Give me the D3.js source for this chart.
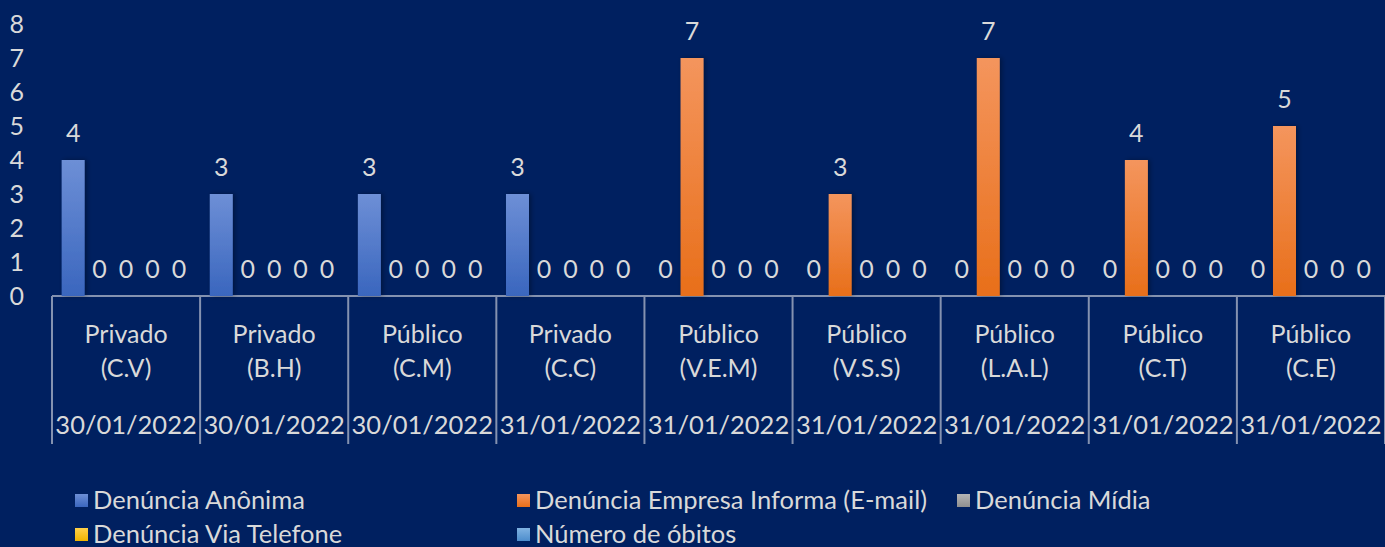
<!DOCTYPE html>
<html>
<head>
<meta charset="utf-8">
<script src="https://cdn.jsdelivr.net/npm/d3@7"></script>
<style>
  html, body { margin: 0; padding: 0; background: #002060; }
  svg { display: block; font-family: Lato, "Open Sans", sans-serif; }
</style>
</head>
<body>
<div id="chart"></div>
<script>
var width = 1385, height = 547;

// data
var types = ["Privado", "Privado", "Público", "Privado", "Público", "Público", "Público", "Público", "Público"];
var codes = ["(C.V)", "(B.H)", "(C.M)", "(C.C)", "(V.E.M)", "(V.S.S)", "(L.A.L)", "(C.T)", "(C.E)"];
var dates = ["30/01/2022", "30/01/2022", "30/01/2022", "31/01/2022", "31/01/2022", "31/01/2022", "31/01/2022", "31/01/2022", "31/01/2022"];
var seriesNames = ["Denúncia Anônima", "Denúncia Empresa Informa (E-mail)", "Denúncia Mídia", "Denúncia Via Telefone", "Número de óbitos"];
var anonima = [4, 3, 3, 3, 0, 0, 0, 0, 0];
var empresa = [0, 0, 0, 0, 7, 3, 7, 4, 5];
var midia = [0, 0, 0, 0, 0, 0, 0, 0, 0];
var telefone = [0, 0, 0, 0, 0, 0, 0, 0, 0];
var obitos = [0, 0, 0, 0, 0, 0, 0, 0, 0];
var yTicks = [0, 1, 2, 3, 4, 5, 6, 7, 8];

var allSeries = [anonima, empresa, midia, telefone, obitos];
var colors = [
  ["#6d8fd6", "#3a66be"],
  ["#f4955d", "#e86f1a"],
  ["#b5b5b5", "#8f8f8f"],
  ["#ffd04a", "#f0b400"],
  ["#7fb2e2", "#4d8dcc"]
];

var svg = d3.select("#chart").append("svg")
  .attr("width", width)
  .attr("height", height);

var defs = svg.append("defs");
colors.forEach(function(c, i) {
  var grad = defs.append("linearGradient")
    .attr("id", "grad" + i)
    .attr("x1", 0).attr("y1", 0).attr("x2", 0).attr("y2", 1);
  grad.append("stop").attr("offset", "0%").attr("stop-color", c[0]);
  grad.append("stop").attr("offset", "100%").attr("stop-color", c[1]);
});
var shadow = defs.append("filter").attr("id", "shadow")
  .attr("x", "-30%").attr("y", "-10%").attr("width", "160%").attr("height", "120%");
shadow.append("feDropShadow")
  .attr("dx", 2).attr("dy", 0).attr("stdDeviation", 2.5)
  .attr("flood-color", "#000").attr("flood-opacity", 0.35);

var x0 = d3.scaleBand()
  .domain(d3.range(types.length))
  .range([52, 1385]);

var x1 = d3.scaleBand()
  .domain(d3.range(seriesNames.length))
  .range([0, x0.bandwidth()])
  .paddingInner(0.13)
  .paddingOuter(0.365);

var y = d3.scaleLinear()
  .domain([0, 8])
  .range([296, 24]);

var textColor = "#d9d9d9";
var lineColor = "#8492b0";

// y tick labels
svg.append("g").selectAll("text")
  .data(yTicks)
  .enter().append("text")
  .attr("x", 24)
  .attr("y", d => y(d) + 9)
  .attr("text-anchor", "end")
  .attr("fill", textColor)
  .attr("font-size", 25)
  .text(d => d);

// category axis lines
svg.append("line")
  .attr("x1", x0.range()[0]).attr("x2", x0.range()[1])
  .attr("y1", y(0)).attr("y2", y(0))
  .attr("stroke", lineColor).attr("stroke-width", 2);

svg.append("g").selectAll("line")
  .data(d3.range(types.length + 1))
  .enter().append("line")
  .attr("x1", d => x0.range()[0] + d * x0.step())
  .attr("x2", d => x0.range()[0] + d * x0.step())
  .attr("y1", y(0)).attr("y2", 444)
  .attr("stroke", lineColor).attr("stroke-width", 2);

// bars
var groups = svg.append("g").selectAll("g")
  .data(types.map((t, i) => i))
  .enter().append("g")
  .attr("transform", i => "translate(" + x0(i) + ",0)");

groups.selectAll("rect")
  .data(i => allSeries.map((s, k) => ({ k: k, v: s[i] })))
  .enter().append("rect")
  .filter(d => d.v > 0)
  .attr("x", d => x1(d.k))
  .attr("width", x1.bandwidth())
  .attr("y", d => y(d.v))
  .attr("height", d => y(0) - y(d.v))
  .attr("fill", d => "url(#grad" + d.k + ")")
  .attr("filter", "url(#shadow)");

groups.selectAll("text.val")
  .data(i => allSeries.map((s, k) => ({ k: k, v: s[i] })))
  .enter().append("text")
  .attr("class", "val")
  .attr("x", d => x1(d.k) + x1.bandwidth() / 2)
  .attr("y", d => y(d.v) - 18)
  .attr("text-anchor", "middle")
  .attr("fill", textColor)
  .attr("font-size", 25)
  .text(d => d.v);

// category labels
groups.append("text")
  .attr("x", x0.bandwidth() / 2)
  .attr("y", 343)
  .attr("text-anchor", "middle")
  .attr("fill", textColor)
  .attr("font-size", 25)
  .text(i => types[i]);

groups.append("text")
  .attr("x", x0.bandwidth() / 2)
  .attr("y", 377)
  .attr("text-anchor", "middle")
  .attr("fill", textColor)
  .attr("font-size", 25)
  .text(i => codes[i]);

groups.append("text")
  .attr("x", x0.bandwidth() / 2)
  .attr("y", 434)
  .attr("text-anchor", "middle")
  .attr("fill", textColor)
  .attr("font-size", 25.5)
  .text(i => dates[i]);

// legend
var legendPos = [[75, 500], [517, 500], [957, 500], [75, 534], [517, 534]];
var legend = svg.append("g").selectAll("g")
  .data(seriesNames)
  .enter().append("g")
  .attr("transform", (d, i) => "translate(" + legendPos[i][0] + "," + legendPos[i][1] + ")");

legend.append("rect")
  .attr("x", 0).attr("y", -6)
  .attr("width", 13).attr("height", 13)
  .attr("fill", (d, i) => "url(#grad" + i + ")");

legend.append("text")
  .attr("x", 18)
  .attr("y", 9)
  .attr("fill", textColor)
  .attr("font-size", 25.5)
  .text(d => d);
</script>
</body>
</html>
